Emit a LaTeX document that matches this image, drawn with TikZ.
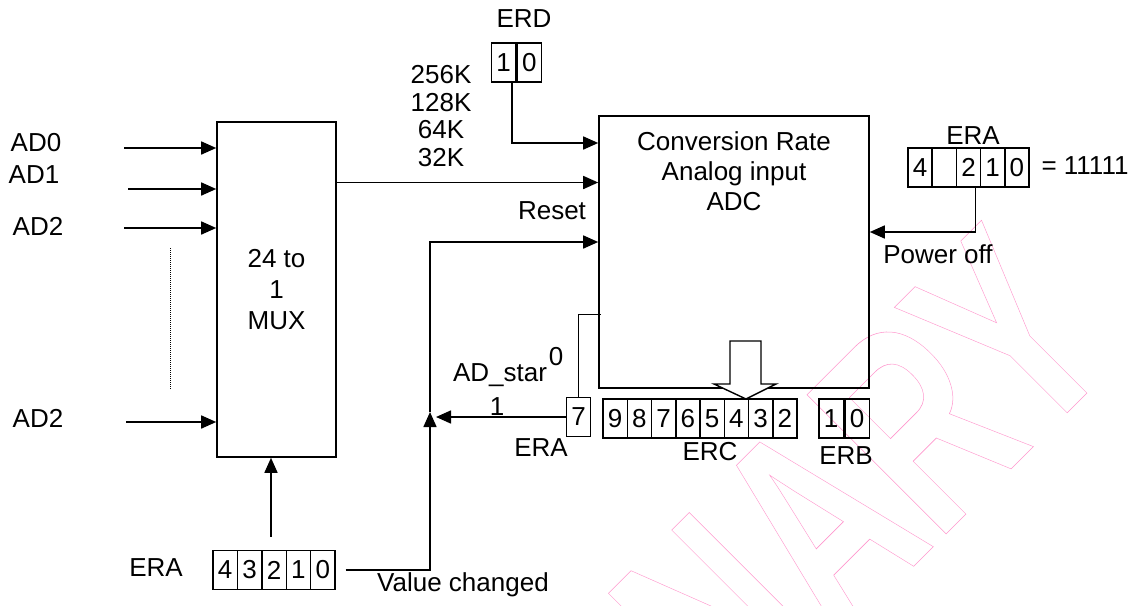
\documentclass[tikz,border=0pt]{standalone}
\usepackage{fontspec}
\setmainfont{Liberation Sans}
\usetikzlibrary{positioning,arrows.meta}
\definecolor{WaterPink}{RGB}{255,150,205}

\begin{document}
\begin{tikzpicture}[x=1pt,y=-1pt,
font=\fontsize{26}{30}\selectfont,
blk/.style={draw, line width=1.6pt, inner sep=0pt, align=center},
cell/.style={draw, line width=1.4pt, inner sep=0pt, minimum width=24.4pt, minimum height=39pt},
lbl/.style={inner sep=0pt, align=center},
arr/.style={-{Triangle[length=15pt,width=13pt]}, line width=1.6pt},
wmark/.style={text=WaterPink, inner sep=0pt, font=\bfseries\fontsize{286}{286}\selectfont}
]
\useasboundingbox (0,0) rectangle (1139,605);

% watermark
\begin{scope}
\clip (0,0) rectangle (1139,605);
\node[wmark, rotate=45, anchor=base east] (wm) at (1123,357) {\scalebox{0.68}[1]{\special{pdf:code 1 Tr 0.6 w}PRELIMINARY\special{pdf:code 0 Tr}}};
\end{scope}

% blocks
\node[blk, minimum width=119pt, minimum height=335pt, font=\fontsize{26}{31}\selectfont] (mux) at (276.5,289.5) {24 to\\1\\MUX};
\node[blk, minimum width=270pt, minimum height=272pt] (adc) at (734,252) {};
\node[lbl, below=16pt of adc.north] (adctxt) {Conversion Rate\\Analog input\\ADC};

% inputs
\node[lbl] (ad0) at (36,143) {AD0};
\node[lbl] (ad1) at (34,175) {AD1};
\node[lbl] (ad2) at (38,226) {AD2};
\node[lbl] (ad23) at (38,418) {AD2};
\coordinate (in0) at (124,148);
\coordinate (in1) at (128,189);
\coordinate (in2) at (124,228);
\coordinate (in23) at (126,422);
\draw[arr] (in0) -- (in0 -| mux.west);
\draw[arr] (in1) -- (in1 -| mux.west);
\draw[arr] (in2) -- (in2 -| mux.west);
\draw[arr] (in23) -- (in23 -| mux.west);
\draw[line width=1pt, dash pattern=on 1pt off 1pt] (170,248) -- (170,389);

% ERD
\node[cell] (erd1) at (503.5,62.5) {1};
\node[cell, right=0pt of erd1] (erd0) {0};
\node[lbl] (erdlbl) at (524,19) {ERD};
\node[lbl, font=\fontsize{26}{27.5}\selectfont] (rates) at (441,116) {256K\\128K\\64K\\32K};
\draw[arr] ([xshift=8.5pt]erd1.south) |- ([yshift=109pt]adc.west);
\draw[arr] ([yshift=107pt]mux.east) -- ([yshift=107pt]mux.east -| adc.west);

% bottom ERA and reset
\foreach \d [count=\i] in {4,3,2,1,0}
  \node[cell] (eral\d) at (200.8+24.4*\i,570) {\d};
\node[lbl] (eralbl) at (156,568) {ERA};
\draw[arr] ([xshift=-3pt,yshift=13pt]eral2.north) -- ([xshift=-3pt]eral2.north |- mux.south);
\coordinate (meet) at (430,412);
\coordinate (rst) at (430,242);
\draw[arr] ([xshift=10pt]eral0.east) -| (meet);
\draw[arr] (meet) -- (rst) -- (rst -| adc.west);
\node[lbl] (rstlbl) at (552,211) {Reset};
\node[lbl] (vclbl) at (463,585) {Value changed};

% AD_star
\node[cell] (era7) at (578.5,417) {7};
\node[lbl] (era7lbl) at (541,448) {ERA};
\draw (era7.north) |- ([xshift=3pt,yshift=-62pt]adc.west);
\draw[arr] (era7.west) -- ([xshift=6pt]era7.west -| meet);
\node[lbl] (adst) at (500,375) {AD\_star};
\node[lbl] (adst0) at (556,357) {0};
\node[lbl] (adst1) at (497,407) {1};

% ERC / ERB
\foreach \d [count=\i] in {9,8,7,6,5,4,3,2}
  \node[cell] (erc\d) at (590.9+24.25*\i,418.5) {\d};
\node[lbl] (erclbl) at (710,452) {ERC};
\node[cell] (erb1) at (831.2,418.5) {1};
\node[cell, right=0pt of erb1] (erb0) {0};
\node[lbl] (erblbl) at (846,456) {ERB};
\draw[line width=1.4pt, fill=white] (730,341) -- (761,341) -- (761,384) -- (776,384) -- (746,399) -- (714,384) -- (730,384) -- cycle;

% ERA power off
\foreach \d/\t [count=\i] in {4/4,3/,2/2,1/1,0/0}
  \node[cell] (erar\d) at (895.9+24.2*\i,167.5) {\t};
\node[lbl] (erarlbl) at (973,136) {ERA};
\node[lbl] (eraval) at (1085,166) {= 11111};
\draw[arr] ([xshift=7pt]erar2.south) |- ([yshift=20pt]adc.east);
\node[lbl] (pwrlbl) at (938,254) {Power off};
\end{tikzpicture}
\end{document}
